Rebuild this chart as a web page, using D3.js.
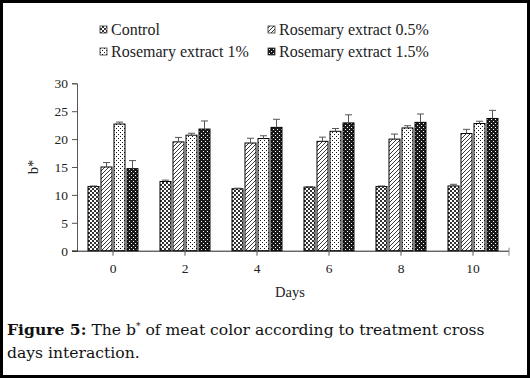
<!DOCTYPE html>
<html>
<head>
<meta charset="utf-8">
<title>b* of meat color</title>
<script src="https://d3js.org/d3.v7.min.js"></script>
<style>
  body, html { margin: 0; padding: 0; background: #fff; }
  svg text { font-family: "Liberation Serif", "Times New Roman", serif; fill: #222; }
  .caption { font-family: "DejaVu Serif", serif; font-size: 15.6px; fill: #111; }
</style>
</head>
<body>
<svg width="530" height="378"></svg>
<script>
const days = ["0", "2", "4", "6", "8", "10"];
const series = ["Control", "Rosemary extract 0.5%", "Rosemary extract 1%", "Rosemary extract 1.5%"];
const control = [11.5, 12.4, 11.1, 11.4, 11.5, 11.6];
const rose05 = [15.0, 19.5, 19.3, 19.6, 20.0, 21.0];
const rose1 = [22.7, 20.7, 20.1, 21.4, 22.0, 22.8];
const rose15 = [14.7, 21.8, 22.1, 22.9, 23.0, 23.7];
const errControl = [0.1, 0.25, 0.1, 0.1, 0.1, 0.3];
const err05 = [0.8, 0.8, 0.85, 0.75, 0.9, 0.75];
const err1 = [0.35, 0.35, 0.5, 0.5, 0.4, 0.4];
const err15 = [1.45, 1.45, 1.45, 1.45, 1.5, 1.45];
const yTicks = [0, 5, 10, 15, 20, 25, 30];

const values = [control, rose05, rose1, rose15];
const errors = [errControl, err05, err1, err15];

const svg = d3.select("svg");

// patterns
const defs = svg.append("defs");
const p0 = defs.append("pattern").attr("id", "pat0").attr("patternUnits", "userSpaceOnUse")
  .attr("width", 4).attr("height", 4);
p0.append("rect").attr("width", 4).attr("height", 4).attr("fill", "#fff");
p0.append("rect").attr("width", 2).attr("height", 2).attr("fill", "#333");
p0.append("rect").attr("x", 2).attr("y", 2).attr("width", 2).attr("height", 2).attr("fill", "#333");

const p1 = defs.append("pattern").attr("id", "pat1").attr("patternUnits", "userSpaceOnUse")
  .attr("width", 4).attr("height", 4);
p1.append("rect").attr("width", 4).attr("height", 4).attr("fill", "#fff");
p1.append("path").attr("d", "M-1,5 L5,-1 M-1,1 L1,-1 M3,5 L5,3").attr("stroke", "#222").attr("stroke-width", 0.9);

const p2 = defs.append("pattern").attr("id", "pat2").attr("patternUnits", "userSpaceOnUse")
  .attr("width", 4).attr("height", 4);
p2.append("rect").attr("width", 4).attr("height", 4).attr("fill", "#fff");
p2.append("rect").attr("x", 0).attr("y", 0).attr("width", 1).attr("height", 1).attr("fill", "#111");
p2.append("rect").attr("x", 2).attr("y", 2).attr("width", 1).attr("height", 1).attr("fill", "#111");

const p3 = defs.append("pattern").attr("id", "pat3").attr("patternUnits", "userSpaceOnUse")
  .attr("width", 4).attr("height", 4);
p3.append("rect").attr("width", 4).attr("height", 4).attr("fill", "#1a1a1a");
p3.append("rect").attr("x", 1).attr("y", 1).attr("width", 1).attr("height", 1).attr("fill", "#fff");
p3.append("rect").attr("x", 3).attr("y", 3).attr("width", 1).attr("height", 1).attr("fill", "#fff");

// border
svg.append("rect").attr("x", 1.5).attr("y", 1.5).attr("width", 527).attr("height", 375)
  .attr("fill", "none").attr("stroke", "#000").attr("stroke-width", 3);

const x0 = d3.scaleBand().domain(days).range([77, 509]).paddingInner(0).paddingOuter(0);
const x1 = d3.scaleBand().domain(series).range([0, x0.bandwidth()]).paddingInner(0.154).paddingOuter(0.846);
const y = d3.scaleLinear().domain([0, 30]).range([250.7, 83.3]);

// y axis
const yAxis = svg.append("g").attr("transform", "translate(77,0)")
  .call(d3.axisLeft(y).tickValues(yTicks).tickSize(5).tickPadding(4));
yAxis.select(".domain").attr("stroke", "#555");
yAxis.selectAll(".tick line").attr("stroke", "#555");
yAxis.selectAll("text").attr("font-size", 13.5).attr("font-family", "Liberation Serif").attr("fill", "#222");

// x axis
const xAxis = svg.append("g").attr("transform", `translate(0,${y(0)})`)
  .call(d3.axisBottom(x0).tickSize(5).tickPadding(8).tickSizeOuter(0));
xAxis.select(".domain").attr("stroke", "#222").attr("d", "M72,0.5H509");
xAxis.selectAll(".tick line").attr("stroke", "#555");
xAxis.selectAll("text").attr("font-size", 13.5).attr("font-family", "Liberation Serif").attr("fill", "#222");
xAxis.append("line").attr("x1", 509).attr("x2", 509).attr("y1", -3).attr("y2", 5).attr("stroke", "#888");

// bars
series.forEach((s, i) => {
  const g = svg.append("g");
  g.selectAll("rect").data(days).enter().append("rect")
    .attr("x", d => x0(d) + x1(s))
    .attr("y", (d, j) => y(values[i][j]))
    .attr("width", x1.bandwidth())
    .attr("height", (d, j) => y(0) - y(values[i][j]))
    .attr("fill", `url(#pat${i})`)
    .attr("stroke", "#000").attr("stroke-width", 1);
  const cx = d => x0(d) + x1(s) + x1.bandwidth() / 2;
  g.selectAll("line.err").data(days).enter().append("line")
    .attr("x1", cx).attr("x2", cx)
    .attr("y1", (d, j) => y(values[i][j]))
    .attr("y2", (d, j) => y(values[i][j] + errors[i][j]))
    .attr("stroke", "#555");
  g.selectAll("line.cap").data(days).enter().append("line")
    .attr("x1", d => cx(d) - 3.5).attr("x2", d => cx(d) + 3.5)
    .attr("y1", (d, j) => y(values[i][j] + errors[i][j]))
    .attr("y2", (d, j) => y(values[i][j] + errors[i][j]))
    .attr("stroke", "#555");
});

// axis titles
svg.append("text").attr("x", 290).attr("y", 297).attr("text-anchor", "middle")
  .attr("font-size", 14.5).text("Days");
svg.append("text").attr("transform", "translate(38,167) rotate(-90)").attr("text-anchor", "middle")
  .attr("font-size", 14.5).text("b*");

// legend
const legendPos = [[100, 30], [268, 30], [100, 52], [268, 52]];
series.forEach((s, i) => {
  const [lx, ly] = legendPos[i];
  svg.append("rect").attr("x", lx).attr("y", ly - 4).attr("width", 7).attr("height", 7)
    .attr("fill", `url(#pat${i})`).attr("stroke", "#333").attr("stroke-width", 0.8);
  svg.append("text").attr("x", lx + 11).attr("y", ly + 5).attr("font-size", 16).text(s);
});

// caption
const cap1 = svg.append("text").attr("class", "caption").attr("x", 7).attr("y", 335);
cap1.append("tspan").attr("font-weight", "bold").text("Figure 5:");
cap1.append("tspan").text(" The b");
cap1.append("tspan").attr("dy", -6).attr("font-size", 9).text("*");
cap1.append("tspan").attr("dy", 6).text(" of meat color according to treatment cross");
svg.append("text").attr("class", "caption").attr("x", 7).attr("y", 358).text("days interaction.");
</script>
</body>
</html>
